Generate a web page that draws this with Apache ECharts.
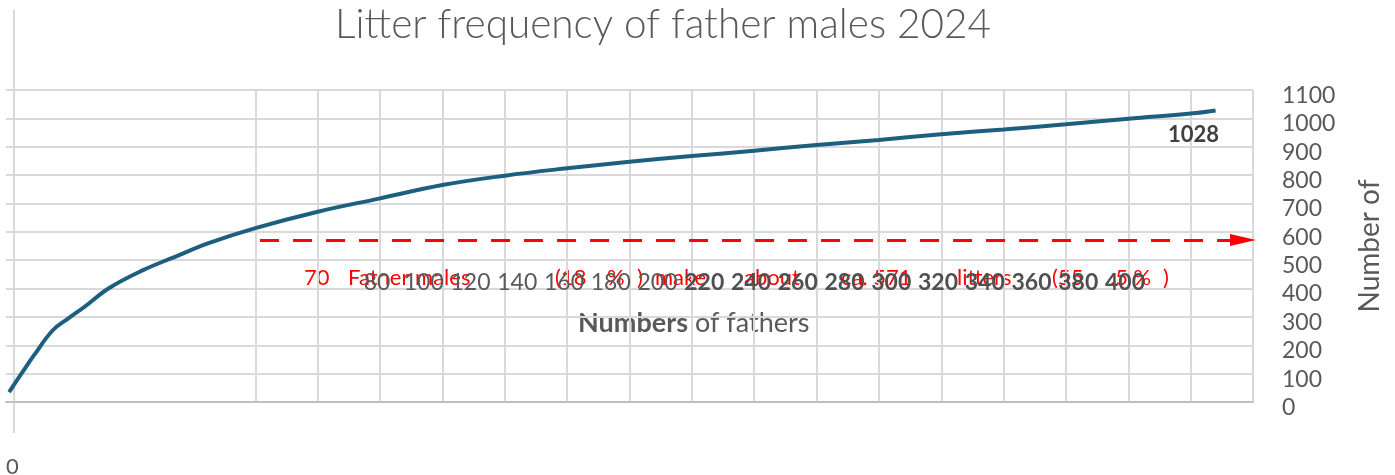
<!DOCTYPE html>
<html>
<head>
<meta charset="utf-8">
<script src="https://cdn.jsdelivr.net/npm/echarts@6/dist/echarts.min.js"></script>
<style>
html,body{margin:0;padding:0;background:#fff;overflow:hidden;}
#chart{width:1395px;height:475px;}
</style>
</head>
<body>
<div id="chart"></div>
<script>
// ---- data ----
const fathers = [1, 5, 9, 15, 20, 25, 33, 44, 54, 65, 80, 100, 120, 140, 160, 180, 200, 220, 240, 260, 280, 300, 320, 340, 360, 380, 388];
const litters = [35, 101, 165, 253, 295, 334, 401, 465, 511, 560, 613, 671, 718, 765, 798, 824, 847, 867, 886, 906, 924, 944, 961, 979, 999, 1017, 1028];
const shiftedTickLabels = ['80','100','120','140','160','180','200','220','240','260','280','300','320','340','360','380','400'];
const yTicks = [0,100,200,300,400,500,600,700,800,900,1000,1100];
const thresholdLitters = 571;
const thresholdStart = 81.5;
const thresholdEnd = 396.8;
const noteTexts = ['70', 'Father males', '(18', '%', ')', 'make', 'about', 'ca. 571', 'litters', '(55', '.5 %', ')'];

const FONT = 'Lato, "Liberation Sans", sans-serif';
const GRID = '#d9d9d9';
const TXT = '#595959';

// x grid split line colours: hide 0, 20, 40, 60
const xSplitColors = [];
for (let v = 0; v <= 400; v += 20) xSplitColors.push(v < 80 ? 'rgba(0,0,0,0)' : GRID);

const lineData = fathers.map((f, i) => {
  const item = { value: [f, litters[i]] };
  if (i === fathers.length - 1) {
    item.label = {
      show: true, position: 'bottom', offset: [-22, 8],
      formatter: String(litters[i]),
      fontFamily: FONT, fontSize: 22, fontWeight: 'bold', color: '#404040'
    };
  }
  return item;
});

const noteX = [304, 348, 555, 607, 637, 655, 744, 841, 957, 1052, 1110, 1163];
const noteGraphics = noteTexts.map((t, i) => ({
  type: 'text', left: noteX[i], top: 267, silent: true,
  style: { text: t, fontFamily: FONT, fontSize: 22, fill: '#ff0000' }
}));

const chart = echarts.init(document.getElementById('chart'));
chart.setOption({
  backgroundColor: '#ffffff',
  animation: false,
  title: {
    text: 'Litter frequency of father males 2024',
    left: 335, top: 0, padding: [4, 0, 0, 0],
    textStyle: { fontFamily: FONT, fontSize: 40.5, fontWeight: 300, color: TXT }
  },
  grid: [
    { left: 6, right: 142, top: 90, bottom: 73, containLabel: false, outerBoundsMode: 'none' },
    { left: 377, right: 270, top: 197, height: 70, containLabel: false, outerBoundsMode: 'none' }
  ],
  xAxis: [
    {
      type: 'value', gridIndex: 0, min: 0, max: 400, interval: 20,
      axisLine: { show: true, lineStyle: { color: '#bfbfbf', width: 2 } },
      axisTick: { show: false },
      axisLabel: {
        formatter: v => (v === 0 ? '0' : ''), margin: 54, align: 'left',
        fontFamily: FONT, fontSize: 22, color: TXT
      },
      splitLine: { show: true, lineStyle: { color: xSplitColors, width: 2 } }
    },
    {
      type: 'category', gridIndex: 1, data: shiftedTickLabels, boundaryGap: false,
      axisLine: { show: false }, axisTick: { show: false }, splitLine: { show: false },
      axisLabel: {
        interval: 0, margin: 4, fontFamily: FONT, fontSize: 23, color: TXT,
        formatter: v => (Number(v) >= 220 ? '{b|' + v + '}' : v),
        rich: { b: { fontFamily: FONT, fontSize: 23, fontWeight: 'bold', color: '#505050' } }
      }
    }
  ],
  yAxis: [
    {
      type: 'value', gridIndex: 0, position: 'right', min: yTicks[0], max: yTicks[yTicks.length - 1], interval: 100,
      axisLine: { show: false }, axisTick: { show: false },
      axisLabel: {
        margin: 29, fontFamily: FONT, fontSize: 23, color: TXT,
        formatter: v => '{a|' + v + '}',
        rich: { a: { fontFamily: FONT, fontSize: 23, color: TXT, padding: [11, 0, 0, 0] } }
      },
      splitLine: { show: true, lineStyle: { color: GRID, width: 2 } },
      name: 'Number of', nameLocation: 'middle', nameGap: 103, nameRotate: 90,
      nameTextStyle: { fontFamily: FONT, fontSize: 28, color: TXT }
    },
    { type: 'value', gridIndex: 1, show: false, min: 0, max: 1 }
  ],
  graphic: [
    { type: 'line', silent: true, shape: { x1: 14, y1: 10, x2: 14, y2: 433 }, style: { stroke: GRID, lineWidth: 2 } },
    {
      type: 'text', left: 578, top: 310, silent: true,
      style: {
        text: '{b|Numbers} of fathers', fontFamily: FONT, fontSize: 27, fill: TXT,
        rich: { b: { fontFamily: FONT, fontSize: 27, fontWeight: 'bold', fill: TXT } }
      }
    }
  ].concat(noteGraphics),
  series: [
    {
      type: 'line', xAxisIndex: 0, yAxisIndex: 0,
      data: lineData, smooth: 0.4,
      symbol: 'circle', symbolSize: 0, showSymbol: true, showAllSymbol: true,
      lineStyle: { color: '#1c5f7f', width: 4 },
      itemStyle: { color: '#1c5f7f' },
      z: 3,
      markLine: {
        silent: true, symbol: ['none', 'triangle'], symbolSize: [12, 26],
        label: { show: false },
        lineStyle: { color: '#ff0000', width: 3, type: [19, 14] },
        data: [[{ coord: [thresholdStart, thresholdLitters] }, { coord: [thresholdEnd, thresholdLitters] }]]
      }
    },
    { type: 'line', xAxisIndex: 1, yAxisIndex: 1, data: [] }
  ]
});
</script>
</body>
</html>
